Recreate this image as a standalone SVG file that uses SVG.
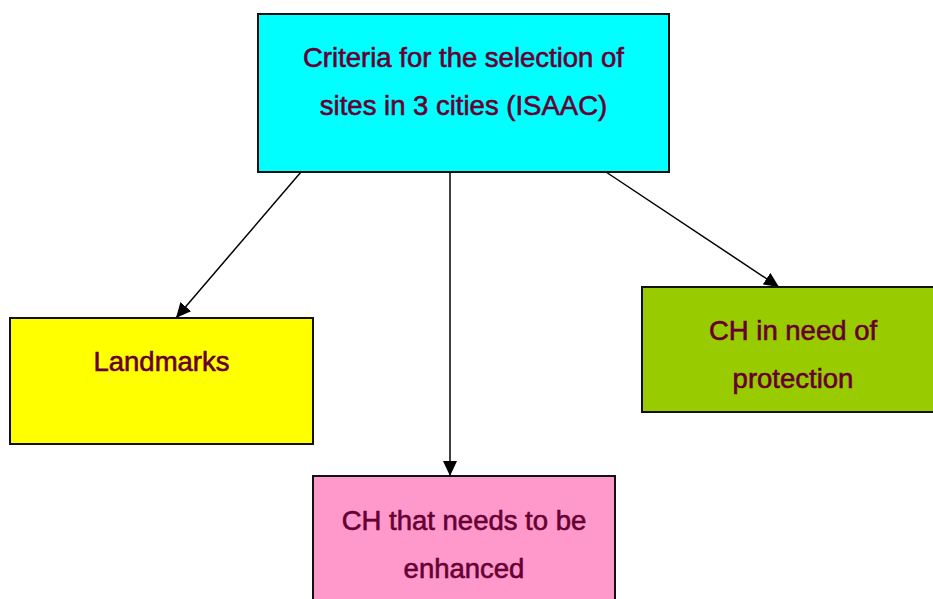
<svg xmlns="http://www.w3.org/2000/svg" width="933" height="599" viewBox="0 0 933 599">
<style>
.box{stroke:#111;stroke-width:2}
.t{font-family:"Liberation Sans",Arial,sans-serif;font-size:27.5px;fill:#660033;stroke:#660033;stroke-width:0.6;text-anchor:middle}
.c{stroke:#000;stroke-width:1.5;fill:none;marker-end:url(#ah)}
</style>
<defs>
<marker id="ah" markerWidth="15" markerHeight="14" refX="15" refY="7" orient="auto" markerUnits="userSpaceOnUse">
<path d="M0,0 L15,7 L0,14 Z" fill="#000"/>
</marker>
</defs>
<rect width="933" height="599" fill="#fff"/>
<g id="connectors">
<line class="c" x1="301" y1="172" x2="176" y2="318"/>
<line class="c" x1="450" y1="172" x2="450" y2="476"/>
<line class="c" x1="606" y1="172" x2="779" y2="287"/>
</g>
<g id="top">
<rect class="box" x="258" y="14" width="411" height="158" fill="#00FFFF"/>
<text class="t" x="463.5" y="67">Criteria for the selection of</text>
<text class="t" x="463.5" y="115">sites in 3 cities (ISAAC)</text>
</g>
<g id="landmarks">
<rect class="box" x="10" y="318" width="303" height="126" fill="#FFFF00"/>
<text class="t" x="161.5" y="371">Landmarks</text>
</g>
<g id="enhanced">
<rect class="box" x="313" y="476" width="302" height="140" fill="#FF99CC"/>
<text class="t" x="464" y="530">CH that needs to be</text>
<text class="t" x="464" y="578">enhanced</text>
</g>
<g id="protection">
<rect class="box" x="642" y="287" width="302" height="125" fill="#99CC00"/>
<text class="t" x="793" y="340">CH in need of</text>
<text class="t" x="793" y="388">protection</text>
</g>
</svg>
